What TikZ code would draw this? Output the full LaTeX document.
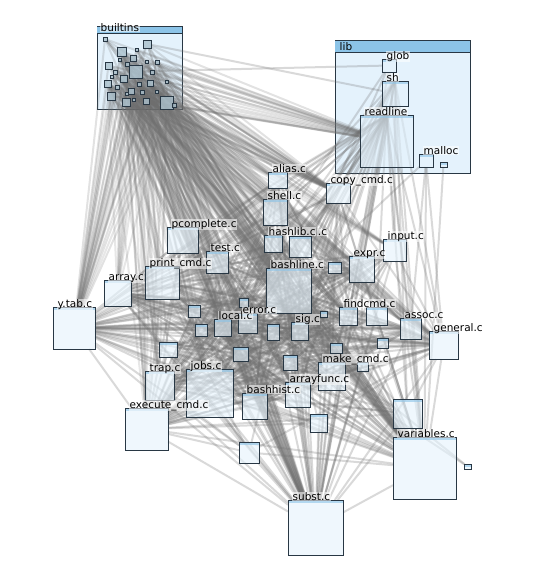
\documentclass[tikz,border=0pt]{standalone}
\usepackage{fontspec}
\setmainfont{DejaVu Sans}
\usetikzlibrary{backgrounds}
\definecolor{modfill}{RGB}{228,242,252}
\definecolor{modline}{RGB}{40,55,68}
\definecolor{modhead}{RGB}{140,196,232}
\definecolor{depgray}{RGB}{110,110,110}
\definecolor{innfill}{RGB}{170,192,204}
\pgfdeclarelayer{pkg}
\pgfsetlayers{pkg,background,main}

\begin{document}
\begin{tikzpicture}[x=1pt, y=-1pt,
    mod/.style={rectangle, draw=modline, fill=modfill, fill opacity=0.6, draw opacity=1, line width=0.9pt, anchor=north west, inner sep=0pt, outer sep=0pt,
        path picture={\fill[modhead] (path picture bounding box.north west) rectangle ([yshift=-3pt]path picture bounding box.north east);}},
    cont/.style={rectangle, draw=modline, fill=modfill, line width=0.9pt, anchor=north west, inner sep=0pt, outer sep=0pt},
    inb/.style={rectangle, draw=modline, fill=innfill, fill opacity=0.8, line width=0.9pt, anchor=north west, inner sep=0pt, outer sep=0pt},
    dep/.style={draw=depgray, line width=2pt, opacity=0.26},
    lbl/.style={font=\fontsize{10.5}{12}\selectfont, text=black, fill=white, fill opacity=0.55, text opacity=1, inner sep=0.5pt, anchor=base west},
]
    \useasboundingbox (0,0) rectangle (540,571);

    % Package containers
    \begin{pgfonlayer}{pkg}
    \node[cont, minimum width=85pt, minimum height=83pt] (bi) at (97,26) {};
    \fill[modhead] (bi.north west) rectangle ([yshift=-7pt]bi.north east);
    \draw[modline, line width=0.9pt] (bi.north west) -- (bi.north east) ([yshift=-7pt]bi.north west) -- ([yshift=-7pt]bi.north east);
    \node[cont, minimum width=135pt, minimum height=133pt] (lib) at (335,40) {};
    \fill[modhead] (lib.north west) rectangle ([yshift=-12pt]lib.north east);
    \draw[modline, line width=0.9pt] (lib.north west) -- (lib.north east) ([yshift=-12pt]lib.north west) -- ([yshift=-12pt]lib.north east);
    \end{pgfonlayer}

    % Inner squares of builtins
    \foreach \n/\x/\y/\s in {b1/143/40/8, b2/117/47/9, b3/130/55/6, b4/129/65/13, b5/105/62/7,
        b6/104/80/7, b7/120/75/7, b8/107/92/8, b9/122/98/8, b10/147/80/6, b11/160/96/13,
        b12/128/88/6, b13/143/98/6, b14/113/70/4, b15/125/62/4, b16/137/82/4, b17/150/70/4,
        b18/155/60/4, b19/115/85/4, b20/140/90/4, b21/103/37/4, b22/172/103/4, b23/118/58/3,
        b24/135/48/3, b25/145/60/3, b26/110/75/3, b27/132/98/3, b28/155/90/3, b29/165/80/3, b30/125/92/3}
        \node[inb, minimum width=\s pt, minimum height=\s pt] (\n) at (\x,\y) {};

    % Source modules
    \foreach \n/\x/\y/\w/\h in {ytab/53/307/42/42, arr/104/280/27/26, prt/145/266/34/33,
        pcomp/167/227/31/26, test/206/251/22/22, alias/268/172/19/16, copy/326/183/24/20,
        shell/263/199/24/26, hla/264/235/18/17, hlb/289/236/22/21, bline/266/268/45/45,
        sb1/328/262/13/11, input/383/239/23/22, expr/349/256/25/26, fca/339/307/18/18,
        fcb/366/307/21/18, assoc/400/318/21/21, gen/429/331/29/28, sb2/377/338/11/10,
        sb3/330/343/12/10, mkc/318/362/27/28, sb4/357/362/11/9, sig/291/322/17/18,
        sb5/320/311/7/6, err/238/313/19/20, sb6/239/298/9/9, loc/214/319/17/17,
        sb7/188/305/12/12, sb8/195/324/12/12, sb9/267/324/12/16, sb10/233/347/15/14,
        sb11/283/355/14/15, afn/285/382/25/25, bhist/242/393/25/26, jobs/186/369/47/48,
        trapu/159/342/18/15, trap/145/371/29/29, exec/125/408/43/42, sb12/239/442/20/21,
        sb13/310/414/17/18, varu/393/399/29/29, vars/393/437/63/62, subst/288/500/55/55,
        tiny/464/464/7/5, glob/382/59/14/13, sh/382/81/26/25, rl/360/115/53/52,
        mal/419/154/14/13, malx/440/162/7/5}
        \node[mod, minimum width=\w pt, minimum height=\h pt] (\n) at (\x,\y) {};

    \begin{scope}[on background layer]
    % builtins fan
    \foreach \s in {b4,b11,b7,b9,b10,b12,b16,b20,b2,b6}
        \foreach \t in {ytab,arr,prt,pcomp,exec,trap,jobs,bline,shell,alias,copy,subst,vars,gen,test,err,sig,expr,fca,mkc,afn,bhist,hla,input,assoc,loc}
            \draw[dep, opacity=0.17] (\s) -- (\t);
    \foreach \s in {b1,b3,b5,b8,b13,b14,b15,b17,b18,b19,b21,b22,b23,b24,b25,b26,b27,b28,b29,b30}
        \foreach \t in {rl,copy,bline,vars,subst,ytab,b4,b11}
            \draw[dep, opacity=0.2] (\s) -- (\t);
    \draw[dep] (b1) -- (sh);
    \draw[dep] (b4) -- (glob);
    \draw[dep] (b2) -- (rl);

    % lib fan
    \foreach \t in {bline,shell,alias,copy,input,expr,hla,hlb,pcomp,prt,test,err,sig,fca,fcb,gen,assoc,vars,subst,exec,jobs,bhist,afn,mkc,arr,ytab,loc,sb9,sb11,varu,sb1}
        \draw[dep] (rl.north) -- (\t);
    \foreach \t in {bline,shell,copy,expr,input,gen,vars,subst,sig,fca,jobs,exec,err,varu}
        \draw[dep] (sh.north) -- (\t);
    \foreach \t in {subst,exec,bline,vars}
        \draw[dep] (glob) -- (\t);
    \foreach \t in {vars,gen,bline,assoc}
        \draw[dep] (mal) -- (\t);
    \draw[dep] (malx) -- (vars);

    % core mesh
    \foreach \s in {ytab,exec,subst,vars,gen,jobs,bline,trap,prt,arr}
        \foreach \t in {hla,hlb,test,sb1,expr,fca,fcb,sig,err,sb6,loc,sb7,sb8,sb9,sb5,sb10,sb11,afn,bhist,mkc,sb4,sb3,sb2,trapu,shell,alias,copy,pcomp,input,assoc,sb12,sb13,varu}
            \draw[dep] (\s) -- (\t);
    \foreach \s/\t in {ytab/exec, ytab/subst, ytab/vars, exec/subst, exec/vars, subst/vars, jobs/subst,
        jobs/vars, bline/subst, bline/vars, gen/vars, gen/subst, gen/exec, trap/subst, prt/subst,
        arr/vars, ytab/jobs, exec/jobs, gen/bline, arr/subst, prt/exec, ytab/bline, tiny/mkc, tiny/sig}
        \draw[dep] (\s) -- (\t);
    \foreach \s in {err,sig,loc,mkc,afn,bhist,expr,fca}
        \foreach \t in {hla,hlb,test,sb1,sb6,sb7,sb8,sb9,sb5,sb10,sb11,sb4,sb3,sb2,trapu,shell,alias,copy,input,assoc}
            \draw[dep] (\s) -- (\t);
    \end{scope}

    % Labels
    \node[lbl] (bi-lbl) at ([xshift=3pt,yshift=-5pt]bi.north west) {builtins};
    \node[lbl, fill=none] (lib-lbl) at ([xshift=4pt,yshift=-10pt]lib.north west) {lib};
    \foreach \n/\t in {glob/glob, sh/sh, rl/readline, mal/malloc, alias/alias.c, copy/copy\_cmd.c,
        shell/shell.c, hla/hashlib.c, pcomp/pcomplete.c, test/test.c, prt/print\_cmd.c, arr/array.c,
        ytab/y.tab.c, bline/bashline.c, input/input.c, expr/expr.c, fca/findcmd.c, assoc/assoc.c,
        gen/general.c, loc/local.c, err/error.c, sig/sig.c, mkc/make\_cmd.c, afn/arrayfunc.c,
        bhist/bashhist.c, jobs/jobs.c, trap/trap.c, exec/execute\_cmd.c, vars/variables.c, subst/subst.c}
        \node[lbl] (\n-lbl) at ([xshift=4pt,yshift=-0.5pt]\n.north west) {\t};
    \node[lbl] (hlb-lbl) at ([xshift=1pt]hla-lbl.base east) {.c};
\end{tikzpicture}
\end{document}
